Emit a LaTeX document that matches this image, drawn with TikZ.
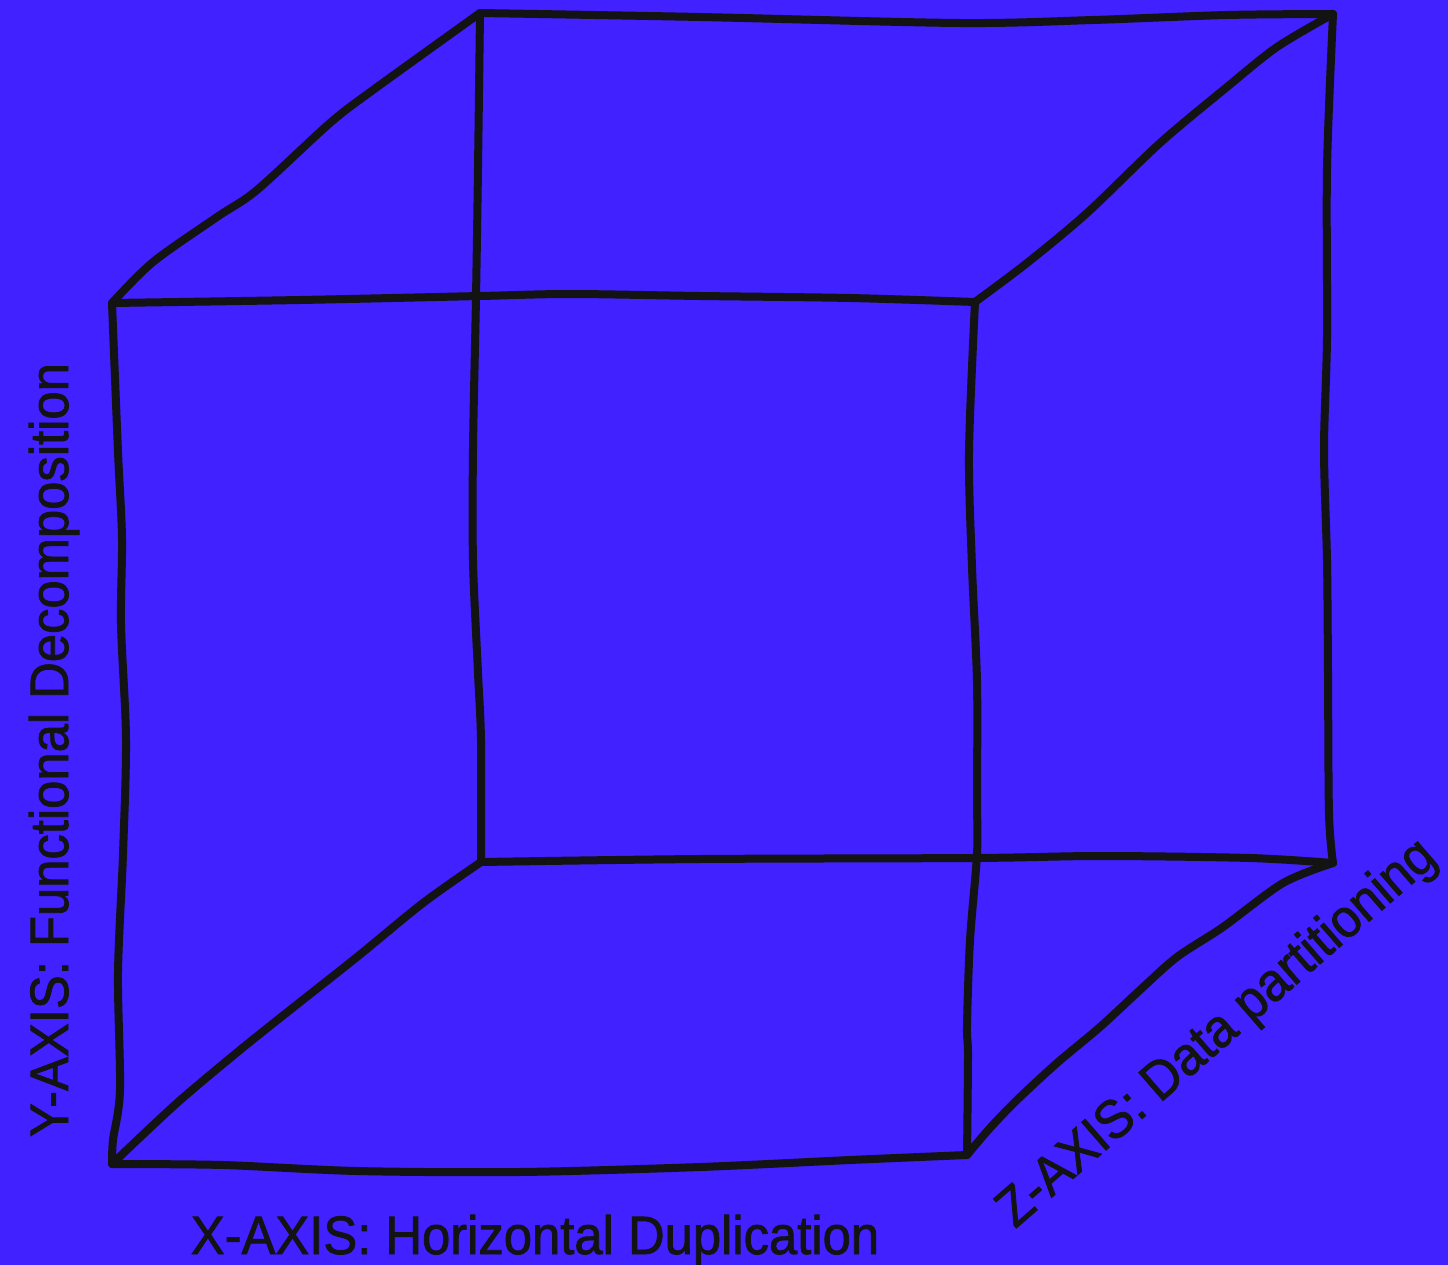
\documentclass[tikz,border=0pt]{standalone}
\usepackage{fontspec}
\usepackage{tikz}
\usetikzlibrary{calc}
\newfontfamily\axisfont{Liberation Sans}[FakeBold=1.5]
\definecolor{cubebg}{HTML}{4121FF}
\definecolor{ink}{HTML}{131313}
\newcommand{\axistext}[1]{\scalebox{0.94}[1]{#1}}
\tikzset{
  edge/.style={
    draw = ink,
    line width = 8pt,
    line cap = round,
    line join = round
  },
}
\tikzset{
  axislabel/.style={
    text = ink,
    inner sep = 0pt,
    anchor = base,
    font = \axisfont\fontsize{54}{60}\selectfont
  },
}
\begin{document}
\begin{tikzpicture}[x=1pt,y=-1pt]
    \fill[cubebg] (0,0) rectangle (1448,1265);
    \useasboundingbox (0,0) rectangle (1448,1265);
    % front face
    \coordinate (ftl) at (112,303);
    \coordinate (ftr) at (975,302);
    \coordinate (fbr) at (967,1155);
    \coordinate (fbl) at (112,1164);
    % back face
    \coordinate (btl) at (480,13);
    \coordinate (btr) at (1333,14);
    \coordinate (bbr) at (1333,863);
    \coordinate (bbl) at (481,862);
    % front edges
    \draw[edge] plot[smooth,tension=0.5] coordinates {(ftl) (300,300) (480,296) (570,294) (700,296) (850,298) (ftr)};
    \draw[edge] plot[smooth,tension=0.5] coordinates {(fbl) (223,1165) (357,1171) (520,1172) (700,1167) (850,1160) (fbr)};
    \draw[edge] plot[smooth,tension=0.5] coordinates {(ftl) (118,452) (122,538) (121,624) (126,739) (123,854) (118,973) (120,1090) (113,1140) (fbl)};
    \draw[edge] plot[smooth,tension=0.5] coordinates {(ftr) (969,452) (972,567) (977,682) (977,797) (977,854) (970,940) (967,1026) (968,1055) (fbr)};
    % back edges
    \draw[edge] plot[smooth,tension=0.5] coordinates {(btl) (700,17) (960,23) (1093,20) (1227,15) (btr)};
    \draw[edge] plot[smooth,tension=0.5] coordinates {(bbl) (700,859) (975,858) (1100,856) (1250,858) (bbr)};
    \draw[edge] plot[smooth,tension=0.5] coordinates {(btl) (478,168) (476,297) (473,449) (473,561) (478,673) (481,741) (bbl)};
    \draw[edge] plot[smooth,tension=0.5] coordinates {(btr) (1327,168) (1327,337) (1324,449) (1327,561) (1328,673) (1329,814) (bbr)};
    % depth edges
    \draw[edge] plot[smooth,tension=0.5] coordinates {(ftl) (153,262) (217,217) (257,190) (330,123) (373,90) (btl)};
    \draw[edge] plot[smooth,tension=0.5] coordinates {(ftr) (1027,263) (1087,213) (1160,143) (1227,87) (1277,47) (btr)};
    \draw[edge] plot[smooth,tension=0.5] coordinates {(bbl) (423,903) (357,957) (290,1010) (240,1050) (177,1103) (fbl)};
    \draw[edge] plot[smooth,tension=0.5] coordinates {(bbr) (1283,883) (1223,927) (1177,957) (1140,990) (1100,1027) (1057,1063) (1017,1100) (990,1128) (fbr)};
    % axis labels
    \node[axislabel] (xaxis) at (535,1254) {\axistext{X-AXIS: Horizontal Duplication}};
    \node[axislabel,rotate=90] (yaxis) at (68,750) {\axistext{Y-AXIS: Functional Decomposition}};
    \node[axislabel,rotate=41] (zaxis) at (1227,1045) {\axistext{Z-AXIS: Data partitioning}};
\end{tikzpicture}
\end{document}
